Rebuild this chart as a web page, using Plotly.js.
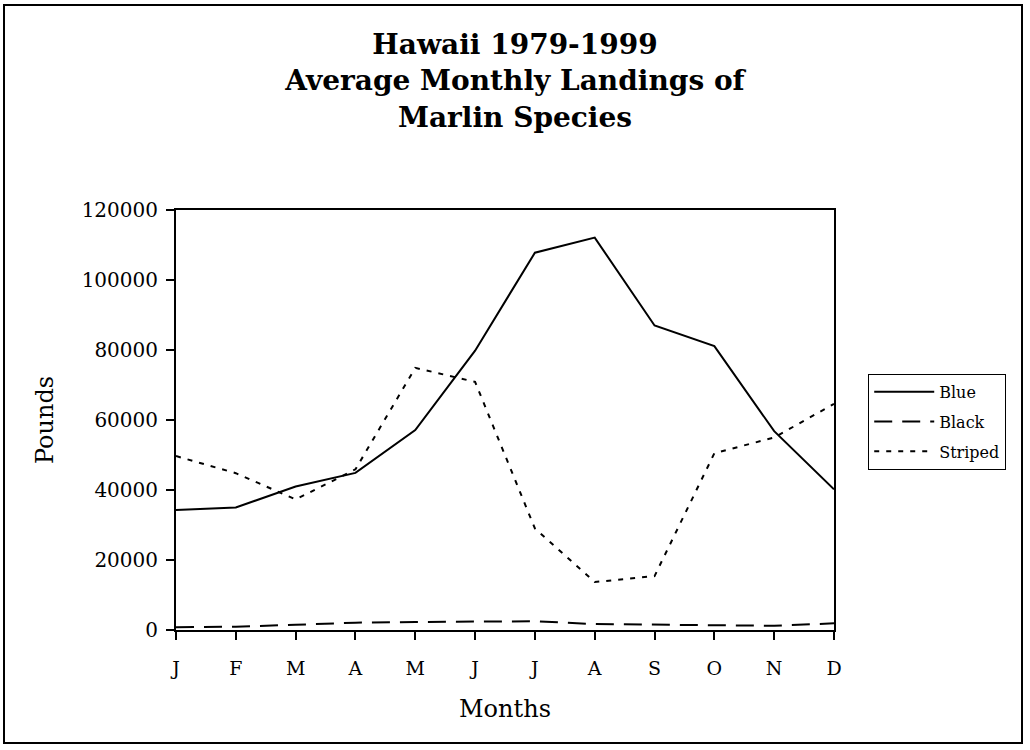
<!DOCTYPE html>
<html>
<head>
<meta charset="utf-8">
<script src="https://cdn.plot.ly/plotly-3.0.1.min.js"></script>
<style>
  html, body { margin: 0; padding: 0; background: #fff; }
  #chart { width: 1030px; height: 750px; position: absolute; left: 0; top: 0; }
  #frame { position: absolute; left: 3px; top: 4px; width: 1020px; height: 740px; border: 2px solid #000; box-sizing: border-box; pointer-events: none; }
</style>
</head>
<body>
<div id="chart"></div>
<div id="frame"></div>
<script>
const months = ["J","F","M","A","M ","J ","J  ","A ","S","O","N","D"];
const monthLabels = ["J","F","M","A","M","J","J","A","S","O","N","D"];
const blue    = [34300, 35000, 41000, 44900, 57100, 79800, 107800, 112100, 87000, 81100, 56800, 40200];
const black   = [800, 950, 1500, 2100, 2300, 2500, 2500, 1700, 1500, 1300, 1200, 1900];
const striped = [49700, 44800, 37300, 45900, 74900, 70900, 29000, 13700, 15400, 50500, 55000, 64600];
const yTicks  = [0, 20000, 40000, 60000, 80000, 100000, 120000];

const FONT = "DejaVu Serif, Liberation Serif, serif";

const traces = [
  { x: months, y: blue, name: "Blue", type: "scatter", mode: "lines", legendgroup: "a",
    line: { color: "#000", width: 2 } },
  { x: months, y: black, name: "Black", type: "scatter", mode: "lines", legendgroup: "b",
    line: { color: "#000", width: 2, dash: "18px,10px" } },
  { x: months, y: striped, name: "Striped", type: "scatter", mode: "lines", legendgroup: "c",
    line: { color: "#000", width: 2, dash: "5px,7px" } }
];

const layout = {
  width: 1030, height: 750,
  paper_bgcolor: "#fff", plot_bgcolor: "#fff",
  margin: { l: 176, r: 196, t: 210, b: 120 },
  font: { family: FONT, color: "#000", size: 19 },
  title: {
    text: "<b>Hawaii 1979-1999<br>Average Monthly Landings of<br>Marlin Species</b>",
    font: { family: FONT, size: 28, color: "#000" },
    x: 0.5, xanchor: "center", xref: "container",
    y: 0.928, yanchor: "middle", yref: "container"
  },
  xaxis: {
    type: "category",
    range: [0, 11],
    tickvals: months, ticktext: monthLabels,
    showgrid: false, zeroline: false,
    showline: true, linecolor: "#000", linewidth: 2, mirror: true,
    ticks: "outside", ticklen: 8, tickwidth: 2, tickcolor: "#000",
    ticklabelstandoff: 12,
    tickfont: { family: FONT, size: 19 },
    title: { text: "Months", font: { family: FONT, size: 24 }, standoff: 22 }
  },
  yaxis: {
    range: [0, 120000],
    tickvals: yTicks, tickformat: "d",
    showgrid: false, zeroline: false,
    showline: true, linecolor: "#000", linewidth: 2, mirror: true,
    ticks: "outside", ticklen: 8, tickwidth: 2, tickcolor: "#000",
    ticklabelstandoff: 4,
    tickfont: { family: FONT, size: 20 },
    title: { text: "Pounds", font: { family: FONT, size: 24 }, standoff: 21 }
  },
  showlegend: true,
  legend: {
    x: 1.052, xanchor: "left", y: 0.61, yanchor: "top",
    bordercolor: "#000", borderwidth: 1, bgcolor: "#fff",
    font: { family: FONT, size: 16 },
    traceorder: "grouped", tracegroupgap: 6, itemwidth: 60
  }
};

Plotly.newPlot("chart", traces, layout, { displayModeBar: false, staticPlot: true });
</script>
</body>
</html>
